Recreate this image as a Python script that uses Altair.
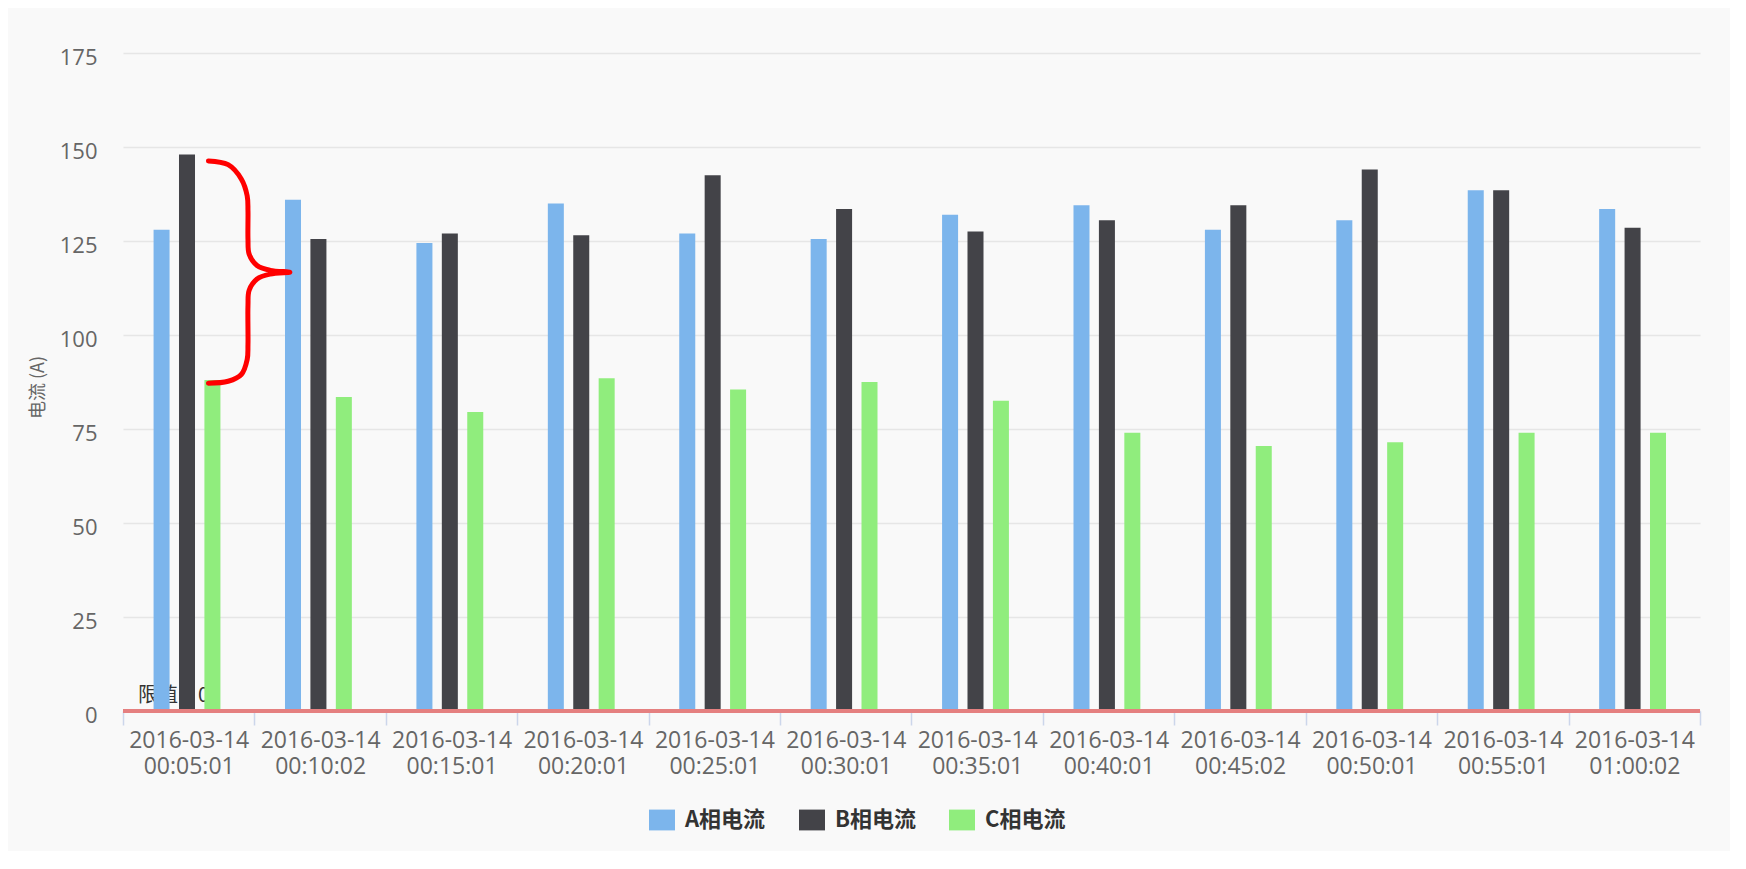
import altair as alt
import pandas as pd

# ---- data ----
times = [
    "2016-03-14 00:05:01", "2016-03-14 00:10:02", "2016-03-14 00:15:01",
    "2016-03-14 00:20:01", "2016-03-14 00:25:01", "2016-03-14 00:30:01",
    "2016-03-14 00:35:01", "2016-03-14 00:40:01", "2016-03-14 00:45:02",
    "2016-03-14 00:50:01", "2016-03-14 00:55:01", "2016-03-14 01:00:02",
]
phase_a = [128, 136, 124.5, 135, 127, 125.5, 132, 134.5, 128, 130.5, 138.5, 133.5]
phase_b = [148, 125.5, 127, 126.5, 142.5, 133.5, 127.5, 130.5, 134.5, 144, 138.5, 128.5]
phase_c = [88, 83.5, 79.5, 88.5, 85.5, 87.5, 82.5, 74, 70.5, 71.5, 74, 74]
series = ["A相电流", "B相电流", "C相电流"]
colors = ["#7cb5ec", "#434348", "#90ed7d"]
y_ticks = [0, 25, 50, 75, 100, 125, 150, 175]
y_title = "电流 (A)"
limit_value = [0]
limit_label = "限值：0"

# red curly-brace annotation, in (category index, ampere) units
brace_x = [0.65, 0.80, 0.90, 0.945, 0.951, 0.951, 0.96, 1.02, 1.12, 1.27,
           1.12, 1.02, 0.96, 0.951, 0.951, 0.945, 0.90, 0.80, 0.65]
brace_y = [146.3, 145.3, 141.5, 137.0, 133.0, 125.5, 121.5, 118.5, 117.2, 116.7,
           116.2, 114.9, 111.9, 107.9, 97.5, 93.5, 89.5, 87.7, 87.2]

# ---- tables ----
df = pd.DataFrame({
    "time": times * 3,
    "series": [s for s in series for _ in times],
    "value": phase_a + phase_b + phase_c,
})
limit_df = pd.DataFrame({"value": limit_value, "label": [limit_label]})
brace_df = pd.DataFrame({"bx": brace_x, "value": brace_y, "order": list(range(len(brace_x)))})

y_scale = alt.Scale(domain=[0, 175], nice=False, zero=True)
y_axis = alt.Axis(title=y_title, values=y_ticks)

bars = alt.Chart(df).mark_bar().encode(
    x=alt.X(
        "time:N", sort=times,
        scale=alt.Scale(paddingInner=0, paddingOuter=0),
        axis=alt.Axis(
            title=None, labelExpr="split(datum.label, ' ')", labelAngle=0,
            tickBand="extent", labelOverlap=False, labelBound=False, labelFlush=False,
        ),
    ),
    xOffset=alt.XOffset("series:N", sort=series,
                        scale=alt.Scale(range=[26, 102], paddingInner=0.37, paddingOuter=0.18)),
    y=alt.Y("value:Q", scale=y_scale, axis=y_axis),
    color=alt.Color(
        "series:N", sort=series,
        scale=alt.Scale(domain=series, range=colors),
        legend=alt.Legend(
            title=None, orient="none", legendX=526, legendY=754, direction="horizontal",
            symbolType="M-1,-0.8H1V0.8H-1Z", symbolSize=676, symbolStrokeWidth=0,
            symbolOpacity=1, labelFont="Noto Sans CJK SC", labelFontSize=22,
            labelFontWeight="bold", labelColor="#333333", labelOffset=10,
            columnPadding=33, labelLimit=0,
        ),
    ),
)

limit_text = alt.Chart(limit_df).mark_text(
    align="left", baseline="middle", dy=-15, fontSize=20,
    font="Noto Sans CJK SC", color="#333333",
).encode(x=alt.value(15), y=alt.Y("value:Q", scale=y_scale, axis=y_axis), text="label:N")

limit_rule = alt.Chart(limit_df).mark_rule(color="#e58080", strokeWidth=4).encode(
    y=alt.Y("value:Q", scale=y_scale, axis=y_axis)
)

brace = alt.Chart(brace_df).mark_line(
    color="#ff0000", strokeWidth=5, strokeCap="round", strokeJoin="round",
    interpolate="catmull-rom",
).encode(
    x=alt.X("bx:Q", scale=alt.Scale(domain=[0, 12], nice=False, zero=False), axis=None),
    y=alt.Y("value:Q", scale=y_scale, axis=y_axis),
    order="order:Q",
)

chart = alt.layer(limit_text, bars, limit_rule, brace).resolve_scale(
    x="independent"
).properties(
    width=1577, height=658,
    padding={"left": 115, "top": 45, "right": 30, "bottom": 140},
    autosize=alt.AutoSizeParams(type="none"),
    background="#f9f9f9",
).configure_view(
    strokeWidth=0
).configure_axisX(
    ticks=True, tickSize=14, tickColor="#ccd6eb", tickWidth=1.5,
    domainColor="#ccd6eb", domainWidth=1.5, grid=False,
    labelFont="Open Sans", labelFontSize=23, labelColor="#666666",
    labelPadding=4, labelLineHeight=26, labelBaseline="top", labelAngle=0,
).configure_axisY(
    grid=True, gridColor="#e6e6e6", gridWidth=1.5,
    domain=False, ticks=False, tickSize=0, labelPadding=26, labelOffset=4,
    labelFont="Open Sans", labelFontSize=22, labelColor="#666666",
    titleFont="Noto Sans CJK SC", titleFontSize=18, titleColor="#666666",
    titleFontWeight="normal", titleX=-85, titleY=334, titleAngle=270,
    titleAlign="center", titleBaseline="middle",
)

chart.save("out.html", embed_options={"renderer": "svg", "actions": False})
